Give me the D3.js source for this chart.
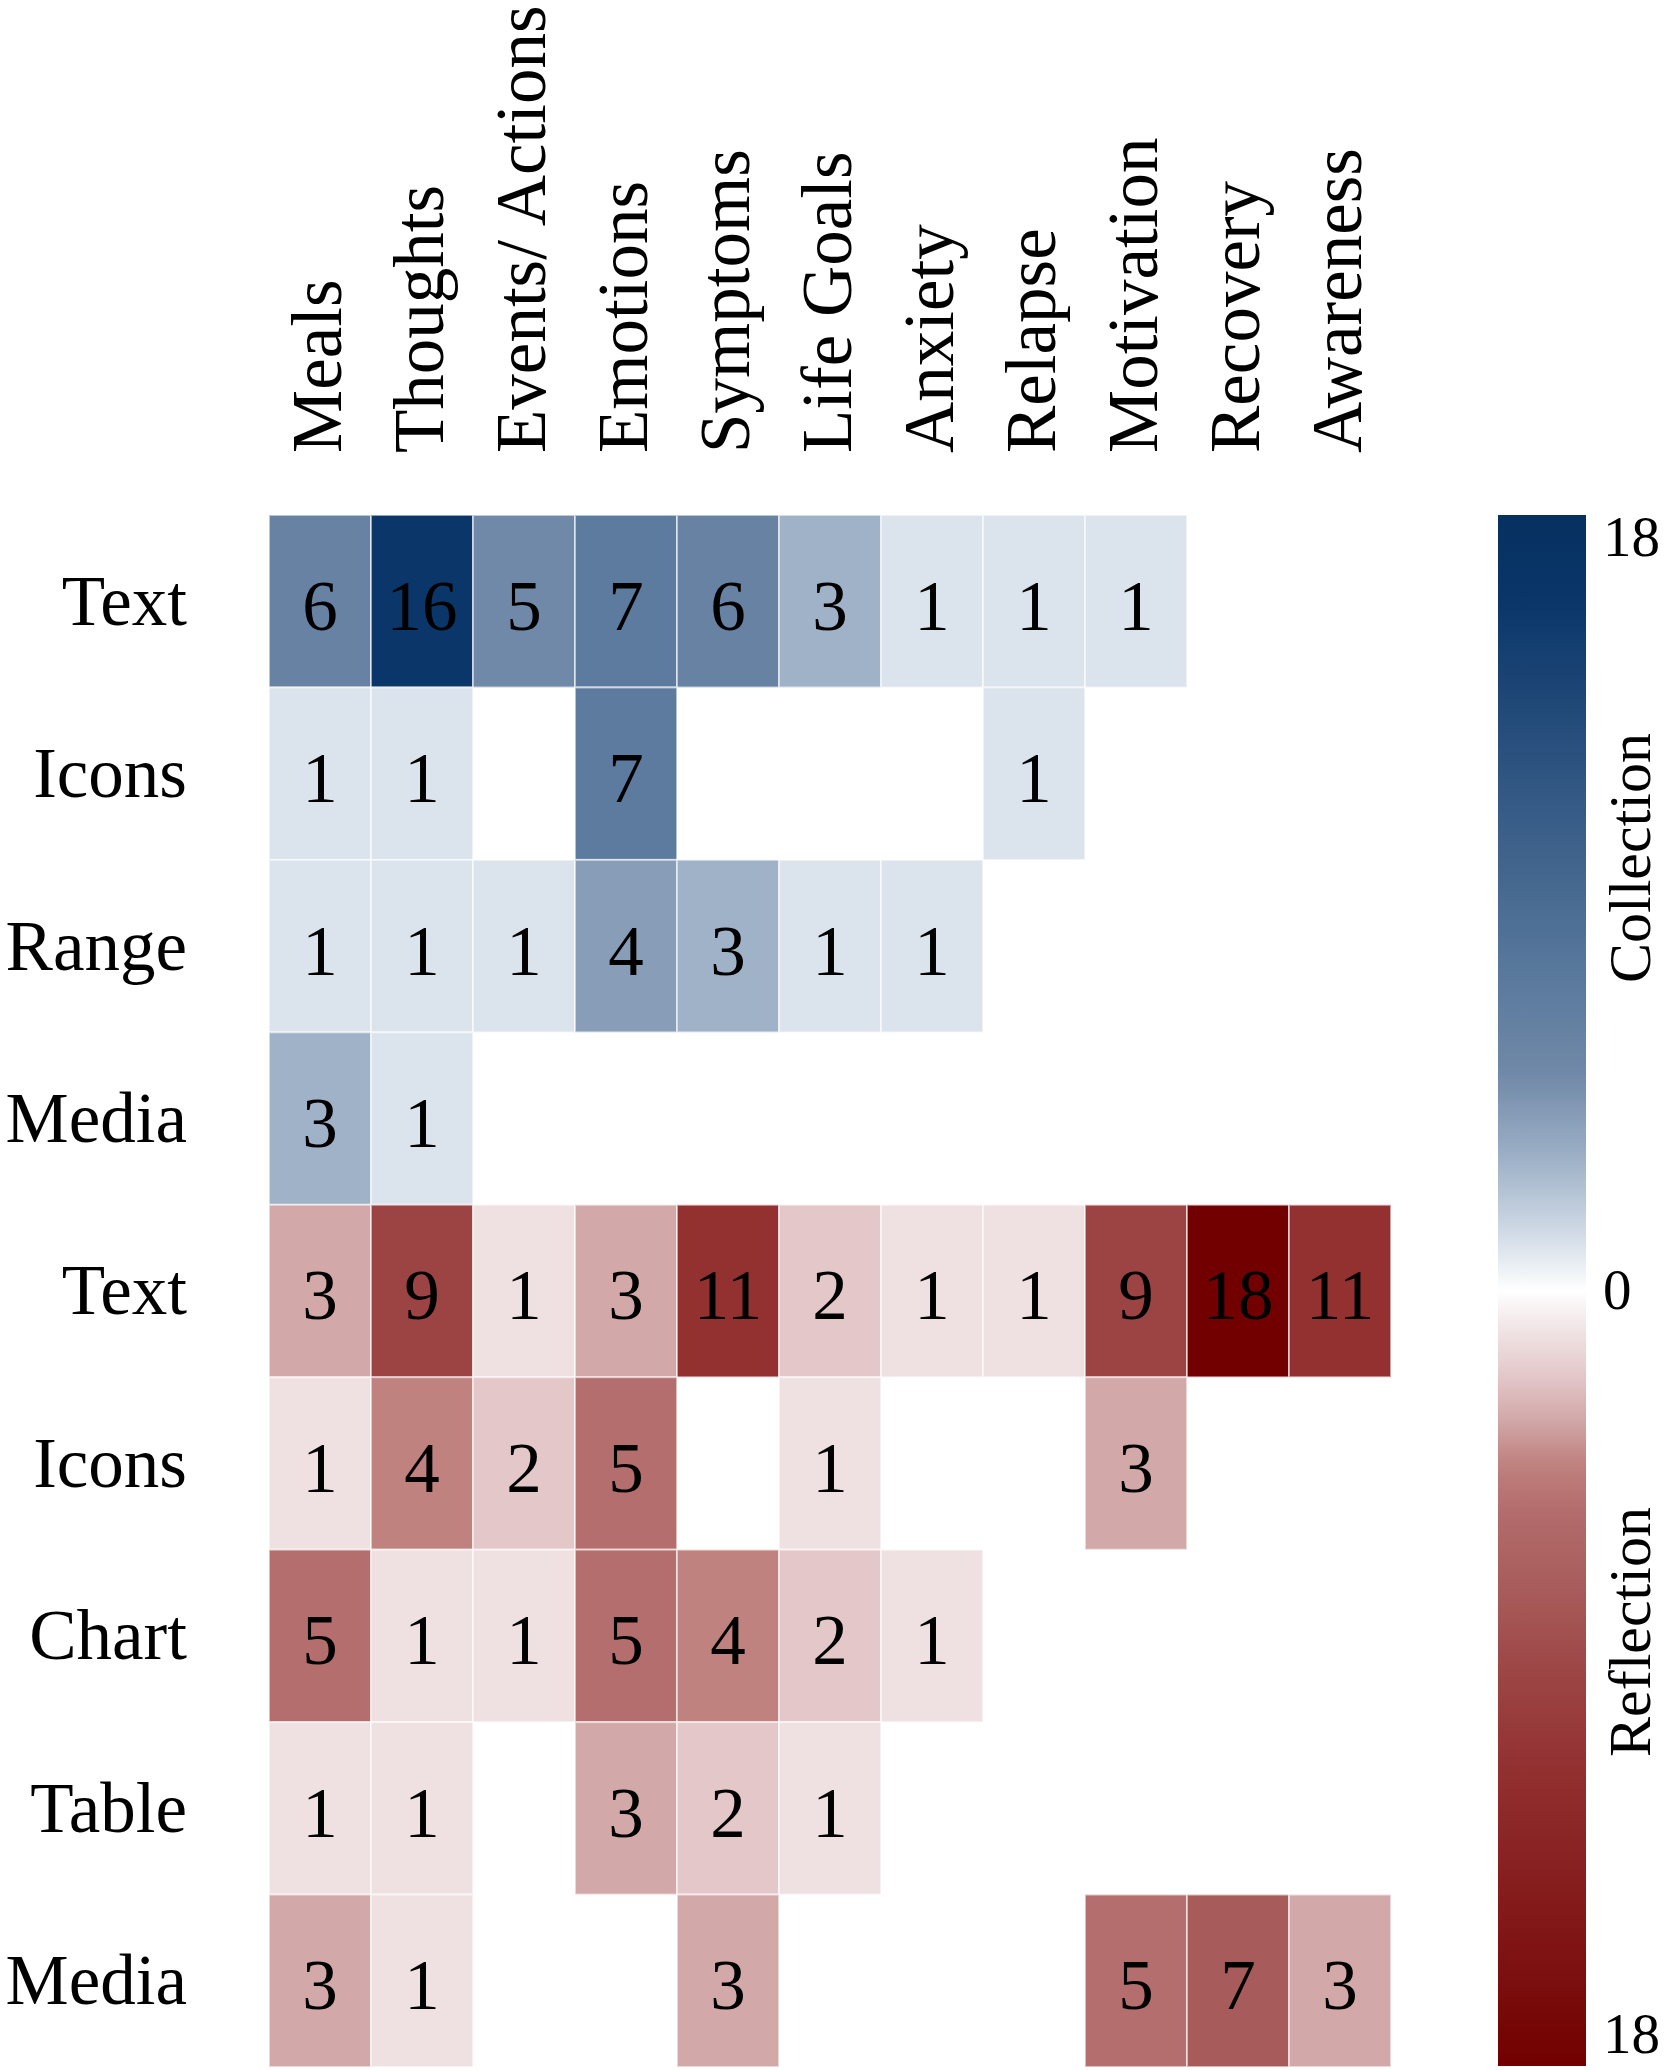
<!DOCTYPE html>
<html>
<head>
<meta charset="utf-8">
<script src="https://cdn.jsdelivr.net/npm/d3@7"></script>
<style>
    body { margin: 0; background: #fff; }
    text { font-family: "Liberation Serif", "Times New Roman", serif; fill: #000; }
</style>
</head>
<body>
<script>
//column categories (themes)
var columns = ["Meals", "Thoughts", "Events/ Actions", "Emotions", "Symptoms",
    "Life Goals", "Anxiety", "Relapse", "Motivation", "Recovery", "Awareness"];

//row labels, collection rows first then reflection rows
var collectionRows = ["Text", "Icons", "Range", "Media"];
var reflectionRows = ["Text", "Icons", "Chart", "Table", "Media"];

//counts per row, null = empty cell
var collectionText  = [6, 16, 5, 7, 6, 3, 1, 1, 1, null, null];
var collectionIcons = [1, 1, null, 7, null, null, null, 1, null, null, null];
var collectionRange = [1, 1, 1, 4, 3, 1, 1, null, null, null, null];
var collectionMedia = [3, 1, null, null, null, null, null, null, null, null, null];

var reflectionText  = [3, 9, 1, 3, 11, 2, 1, 1, 9, 18, 11];
var reflectionIcons = [1, 4, 2, 5, null, 1, null, null, 3, null, null];
var reflectionChart = [5, 1, 1, 5, 4, 2, 1, null, null, null, null];
var reflectionTable = [1, 1, null, 3, 2, 1, null, null, null, null, null];
var reflectionMedia = [3, 1, null, null, 3, null, null, null, 5, 7, 3];

//colour bar ticks
var legendTicks = [18, 0, -18];
var legendMax = 18;

window.onload = drawChart();

function drawChart(){
    var width = 1666,
        height = 2070;

    //heatmap frame
    var left = 269, right = 1391,
        top = 515, bottom = 2067;

    var svg = d3.select("body")
        .append("svg")
        .attr("width", width)
        .attr("height", height);

    //build one list of rows: sign +1 for collection (blue), -1 for reflection (red)
    var rows = [
        {label: collectionRows[0], values: collectionText, sign: 1},
        {label: collectionRows[1], values: collectionIcons, sign: 1},
        {label: collectionRows[2], values: collectionRange, sign: 1},
        {label: collectionRows[3], values: collectionMedia, sign: 1},
        {label: reflectionRows[0], values: reflectionText, sign: -1},
        {label: reflectionRows[1], values: reflectionIcons, sign: -1},
        {label: reflectionRows[2], values: reflectionChart, sign: -1},
        {label: reflectionRows[3], values: reflectionTable, sign: -1},
        {label: reflectionRows[4], values: reflectionMedia, sign: -1}
    ];

    var cells = [];
    rows.forEach(function(r, i){
        r.values.forEach(function(v, j){
            if (v !== null) cells.push({row: i, col: columns[j], value: v * r.sign});
        });
    });

    var x = d3.scaleBand()
        .domain(columns)
        .range([left, right]);

    var y = d3.scaleBand()
        .domain(d3.range(rows.length))
        .range([top, bottom]);

    //diverging colour scale, white at 0
    var color = d3.scaleLinear()
        .domain([-18, -11, -9, -7, -5, -4, -3, -2, -1, 0, 1, 3, 5, 7, 16, 18])
        .range(["#720000", "#933131", "#9c4444", "#a75b5a", "#b46e6d", "#bf827f",
                "#d2a8a9", "#e4c7c9", "#efe1e2", "#ffffff",
                "#dbe3ec", "#9fb2c8", "#7189a8", "#5c7b9e", "#0a366a", "#06305f"])
        .interpolate(d3.interpolateRgb);

    //cells
    svg.selectAll(".cell")
        .data(cells)
        .enter()
        .append("rect")
        .attr("class", "cell")
        .attr("x", function(d){ return x(d.col); })
        .attr("y", function(d){ return y(d.row); })
        .attr("width", x.bandwidth())
        .attr("height", y.bandwidth())
        .attr("fill", function(d){ return color(d.value); })
        .attr("stroke", "#fff")
        .attr("stroke-opacity", 0.55)
        .attr("stroke-width", 2);

    //cell numbers
    svg.selectAll(".num")
        .data(cells)
        .enter()
        .append("text")
        .attr("class", "num")
        .attr("x", function(d){ return x(d.col) + x.bandwidth() / 2; })
        .attr("y", function(d){ return y(d.row) + y.bandwidth() / 2; })
        .attr("dy", "0.4em")
        .attr("text-anchor", "middle")
        .attr("font-size", 71)
        .text(function(d){ return Math.abs(d.value); });

    //row labels
    svg.append("g")
        .attr("class", "yaxis")
        .attr("transform", "translate(" + left + ",0)")
        .call(d3.axisLeft(y).tickSize(0).tickPadding(82)
            .tickFormat(function(i){ return rows[i].label; }))
        .call(function(g){ g.select(".domain").remove(); })
        .selectAll("text")
        .attr("font-size", 71)
        .attr("font-family", "Liberation Serif, serif")
        .attr("dy", "0.33em");

    //column labels, rotated
    svg.append("g")
        .attr("class", "xaxis")
        .attr("transform", "translate(0,453)")
        .call(d3.axisTop(x).tickSize(0))
        .call(function(g){ g.select(".domain").remove(); })
        .selectAll("text")
        .attr("font-size", 71)
        .attr("font-family", "Liberation Serif, serif")
        .attr("x", 0)
        .attr("y", 0)
        .attr("dy", "0.3em")
        .attr("text-anchor", "start")
        .attr("transform", "rotate(-90)");

    //colour bar
    var legendX = 1498, legendW = 88;
    var legendY = d3.scaleLinear()
        .domain([legendMax, -legendMax])
        .range([top, bottom - 1]);

    var grad = svg.append("defs")
        .append("linearGradient")
        .attr("id", "legendGrad")
        .attr("x1", 0).attr("y1", 0)
        .attr("x2", 0).attr("y2", 1);

    grad.selectAll("stop")
        .data(d3.range(0, 101))
        .enter()
        .append("stop")
        .attr("offset", function(d){ return d + "%"; })
        .attr("stop-color", function(d){ return color(legendMax - d / 100 * 2 * legendMax); });

    svg.append("rect")
        .attr("x", legendX)
        .attr("y", legendY(legendMax))
        .attr("width", legendW)
        .attr("height", legendY(-legendMax) - legendY(legendMax))
        .attr("fill", "url(#legendGrad)");

    svg.selectAll(".ltick")
        .data(legendTicks)
        .enter()
        .append("text")
        .attr("class", "ltick")
        .attr("x", 1603)
        .attr("y", function(d){ return legendY(d); })
        .attr("dy", function(d){ return d > 0 ? "0.72em" : (d === 0 ? "0.33em" : "-0.22em"); })
        .attr("font-size", 57)
        .text(function(d){ return Math.abs(d); });

    //colour bar titles
    svg.append("text")
        .attr("transform", "translate(1630,858) rotate(-90)")
        .attr("text-anchor", "middle")
        .attr("dy", "0.33em")
        .attr("font-size", 60)
        .text("Collection");

    svg.append("text")
        .attr("transform", "translate(1630,1632) rotate(-90)")
        .attr("text-anchor", "middle")
        .attr("dy", "0.33em")
        .attr("font-size", 60)
        .text("Reflection");
}
</script>
</body>
</html>
